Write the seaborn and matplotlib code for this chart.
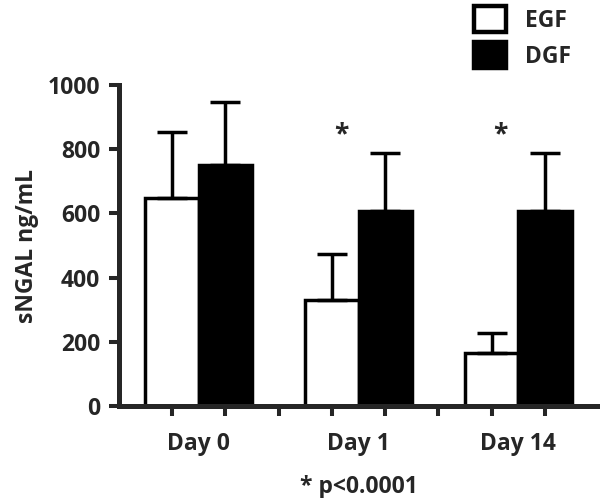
import pandas as pd
import matplotlib.pyplot as plt
import seaborn as sns
import numpy as np
from matplotlib.patches import Patch

days = ["Day 0", "Day 1", "Day 14"]
groups = ["EGF", "DGF"]
egf_mean = [648, 330, 165]
egf_err = [205, 143, 62]
dgf_mean = [751, 607, 607]
dgf_err = [196, 181, 181]
star_days = ["Day 1", "Day 14"]

# bar positions: two bars per day, one empty slot between days
pos = []
for i in range(len(days)):
    pos += [3 * i, 3 * i + 1]
df = pd.DataFrame({
    "pos": pos,
    "group": groups * len(days),
    "value": [v for pair in zip(egf_mean, dgf_mean) for v in pair],
    "err": [v for pair in zip(egf_err, dgf_err) for v in pair],
})

sns.set_style("ticks")
plt.rcParams["font.family"] = ["Open Sans", "DejaVu Sans"]
plt.rcParams["font.weight"] = "bold"
fs = 16.5

fig = plt.figure(figsize=(6, 4.98), dpi=100)
ax = fig.add_axes([0.198, 0.185, 0.799, 0.644])

sns.barplot(data=df, x="pos", y="value", hue="group", native_scale=True,
            dodge=False, width=1.0, palette={"EGF": "white", "DGF": "black"},
            edgecolor="black", linewidth=2.5, errorbar=None, legend=False, ax=ax)
ax.errorbar(df["pos"], df["value"], yerr=[np.zeros(len(df)), df["err"]],
            fmt="none", ecolor="black", elinewidth=2.5, capsize=11,
            capthick=2.5, zorder=1)

ax.set_xlim(-1, 8)
ax.set_ylim(0, 1000)
ax.set_yticks(range(0, 1001, 200))
ax.set_xticks(range(0, 8))
ax.set_xticklabels([""] * 8)
for i, d in enumerate(days):
    ax.text(3 * i + 0.5, -118, d, ha="center", va="center", fontsize=fs,
            fontweight="bold")
for d in star_days:
    i = days.index(d)
    ax.text(3 * i + 0.17, 845, "*", ha="center", va="center", fontsize=19,
            fontweight="bold")
ax.text(3.5, -252, "* p<0.0001", ha="center", va="center", fontsize=fs,
        fontweight="bold", clip_on=False)

ax.set_xlabel("")
ax.set_ylabel("sNGAL ng/mL", fontsize=fs, fontweight="bold", labelpad=6)
ax.tick_params(axis="both", width=2.9, length=7.5, labelsize=fs, direction="out",
               pad=6)
for lab in ax.get_yticklabels():
    lab.set_fontweight("bold")
for s in ["left", "bottom"]:
    ax.spines[s].set_linewidth(3.6)
sns.despine(ax=ax)

handles = [Patch(facecolor="white", edgecolor="black", linewidth=3.2, label="EGF"),
           Patch(facecolor="black", edgecolor="black", linewidth=3.2, label="DGF")]
fig.legend(handles=handles, loc="upper left", bbox_to_anchor=(0.755, 1.03),
           frameon=False, handlelength=1.4, handleheight=1.4,
           handletextpad=0.85, labelspacing=0.4, prop={"size": fs, "weight": "bold"})

fig.savefig("out.png", dpi=100)
